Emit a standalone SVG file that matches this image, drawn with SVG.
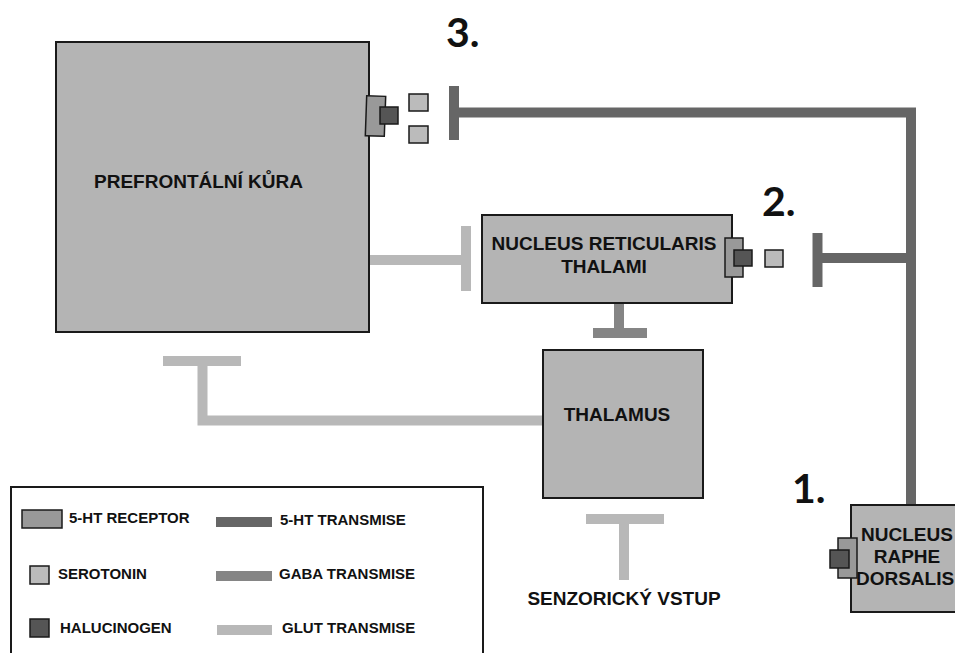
<svg xmlns="http://www.w3.org/2000/svg" width="955" height="653" viewBox="0 0 955 653">
<style>
.box{fill:#b4b4b4;stroke:#1a1a1a;stroke-width:2}
.lbl{font-family:"Liberation Sans",Arial,sans-serif;font-weight:bold;font-size:19px;fill:#111}
.leg{font-family:"Liberation Sans",Arial,sans-serif;font-weight:bold;font-size:15px;fill:#111}
.num{font-family:Lato,"Open Sans",sans-serif;font-weight:bold;font-size:41px;fill:#111}
.rec{fill:#999;stroke:#1a1a1a;stroke-width:1.5}
.ser{fill:#bbb;stroke:#1a1a1a;stroke-width:1.5}
.hal{fill:#555;stroke:#1a1a1a;stroke-width:1.5}
.ht{stroke:#666;stroke-width:10;fill:none}
.gaba{stroke:#858585;stroke-width:10;fill:none}
.glut{stroke:#b8b8b8;stroke-width:10;fill:none}
</style>
<rect width="955" height="653" fill="#fff"/>
<g id="connectors">
  <path class="ht" d="M911,513 V112.5 H459"/>
  <line class="ht" x1="454" y1="86" x2="454" y2="140"/>
  <line class="ht" x1="911" y1="258" x2="822" y2="258"/>
  <line class="ht" x1="817.5" y1="233" x2="817.5" y2="287"/>
  <line class="glut" x1="369" y1="260" x2="466" y2="260"/>
  <line class="glut" x1="466" y1="226" x2="466" y2="291"/>
  <line class="gaba" x1="619" y1="303" x2="619" y2="333"/>
  <line class="gaba" x1="593" y1="333" x2="647" y2="333"/>
  <path class="glut" d="M543,420.5 H202.5 V361"/>
  <line class="glut" x1="163" y1="361" x2="241" y2="361"/>
  <line class="glut" x1="624" y1="580" x2="624" y2="519"/>
  <line class="glut" x1="586" y1="519" x2="664" y2="519"/>
</g>
<g id="pfc">
  <rect class="box" x="56" y="42" width="313" height="290"/>
  <text class="lbl" x="94" y="188">PREFRONTÁLNÍ KŮRA</text>
  <rect class="rec" x="366" y="96" width="19" height="40" transform="rotate(2 375 116)"/>
  <rect class="hal" x="380" y="107" width="18" height="17"/>
  <rect class="ser" x="409" y="94" width="19" height="17"/>
  <rect class="ser" x="409" y="126" width="19" height="17"/>
  <text class="num" x="446" y="47">3.</text>
</g>
<g id="nrt">
  <rect class="box" x="482" y="215" width="250" height="88"/>
  <text class="lbl" x="604" y="250" text-anchor="middle">NUCLEUS RETICULARIS</text>
  <text class="lbl" x="604" y="273" text-anchor="middle">THALAMI</text>
  <rect class="rec" x="725" y="238" width="18" height="39"/>
  <rect class="hal" x="734" y="250" width="18" height="16"/>
  <rect class="ser" x="765" y="250" width="18" height="17"/>
  <text class="num" x="762" y="216">2.</text>
</g>
<g id="thalamus">
  <rect class="box" x="543" y="350" width="160" height="148"/>
  <text class="lbl" x="617" y="421" text-anchor="middle">THALAMUS</text>
</g>
<g id="sensory">
  <text class="lbl" x="624" y="605" text-anchor="middle" font-size="18">SENZORICKÝ VSTUP</text>
</g>
<g id="raphe">
  <rect class="box" x="851" y="505" width="120" height="107"/>
  <text class="lbl" x="907" y="541" text-anchor="middle">NUCLEUS</text>
  <text class="lbl" x="907" y="563" text-anchor="middle">RAPHE</text>
  <text class="lbl" x="905" y="585" text-anchor="middle" font-size="18.5">DORSALIS</text>
  <rect class="rec" x="838" y="538" width="19" height="40"/>
  <rect class="hal" x="830" y="550" width="19" height="18"/>
  <text class="num" x="792" y="503">1.</text>
</g>
<g id="legend">
  <rect x="11" y="487" width="472" height="180" fill="#fff" stroke="#1a1a1a" stroke-width="2"/>
  <rect class="rec" x="22" y="510" width="40" height="18"/>
  <text class="leg" x="69" y="523">5-HT RECEPTOR</text>
  <rect class="ser" x="30" y="566" width="19" height="18"/>
  <text class="leg" x="58" y="579">SEROTONIN</text>
  <rect class="hal" x="30" y="619" width="19" height="18"/>
  <text class="leg" x="60" y="633">HALUCINOGEN</text>
  <line class="ht" x1="216" y1="522" x2="272" y2="522"/>
  <text class="leg" x="280" y="525">5-HT TRANSMISE</text>
  <line class="gaba" x1="216" y1="576" x2="272" y2="576"/>
  <text class="leg" x="279" y="579">GABA TRANSMISE</text>
  <line class="glut" x1="217" y1="630" x2="272" y2="630"/>
  <text class="leg" x="282" y="633">GLUT TRANSMISE</text>
</g>
</svg>
